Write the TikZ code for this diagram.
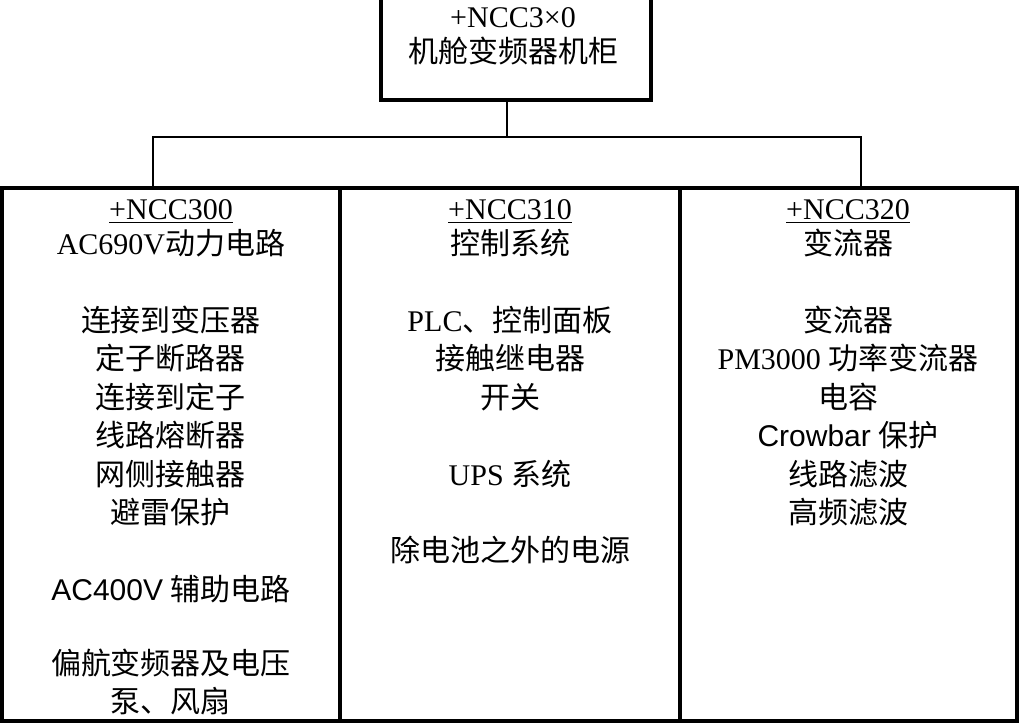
\documentclass[tikz,border=0pt]{standalone}
\usepackage{fontspec}
\setmainfont{Liberation Serif}
\newfontfamily\cjk{Noto Sans CJK SC}
\newfontfamily\arialish{Liberation Sans}
\newcommand{\zh}[1]{{\cjk #1}}
\usetikzlibrary{positioning}

\begin{document}
\begin{tikzpicture}[
  x=0.5pt, y=-0.5pt,
  cellbox/.style={draw, line width=2pt, inner sep=0pt, outer sep=0pt},
  coltext/.style={align=center, inner sep=0pt, font=\fontsize{15}{19.2}\selectfont},
  link/.style={line width=0.85pt}
]
\clip (0,0) rectangle (1019,724);

% cabinet on top
\node[cellbox, minimum width=135pt, minimum height=60pt] (cab) at (516,40) {};
\node[coltext, anchor=north] (cabtxt) at (513,7) {+NCC3×0\\[-1.5pt]\zh{机舱变频器机柜}};

% the three sub cabinets
\node[cellbox, minimum width=169pt, minimum height=266.5pt] (pwr) at (171,454.5) {};
\node[cellbox, minimum width=170pt, minimum height=266.5pt] (ctrl) at (510,454.5) {};
\node[cellbox, minimum width=168.5pt, minimum height=266.5pt] (conv) at (848.5,454.5) {};

\node[coltext, anchor=north] (pwrtxt) at (171,199) {%
  \underline{+NCC300}\\[-1.5pt]
  AC690V\zh{动力电路}\\[19.2pt]
  \zh{连接到变压器}\\
  \zh{定子断路器}\\
  \zh{连接到定子}\\
  \zh{线路熔断器}\\
  \zh{网侧接触器}\\
  \zh{避雷保护}\\[19.2pt]
  {\arialish AC400V} \zh{辅助电路}\\[17.7pt]
  \zh{偏航变频器及电压}\\
  \zh{泵、风扇}};
\node[coltext, anchor=north] (ctrltxt) at (510,199) {%
  \underline{+NCC310}\\[-1.5pt]
  \zh{控制系统}\\[19.2pt]
  PLC\zh{、控制面板}\\
  \zh{接触继电器}\\
  \zh{开关}\\[19.2pt]
  UPS \zh{系统}\\[19.2pt]
  \zh{除电池之外的电源}};
\node[coltext, anchor=north] (convtxt) at (848,199) {%
  \underline{+NCC320}\\[-1.5pt]
  \zh{变流器}\\[19.2pt]
  \zh{变流器}\\
  PM3000 \zh{功率变流器}\\
  \zh{电容}\\
  {\arialish Crowbar} \zh{保护}\\
  \zh{线路滤波}\\
  \zh{高频滤波}};

% bus lines
\coordinate (busM) at (507,137);
\coordinate (busL) at (153,137);
\coordinate (busR) at (861,137);
\draw[link] (cab.south -| busM) -- (busM);
\draw[link] (pwr.north -| busL) |- (busR) -- (conv.north -| busR);

\end{tikzpicture}
\end{document}
